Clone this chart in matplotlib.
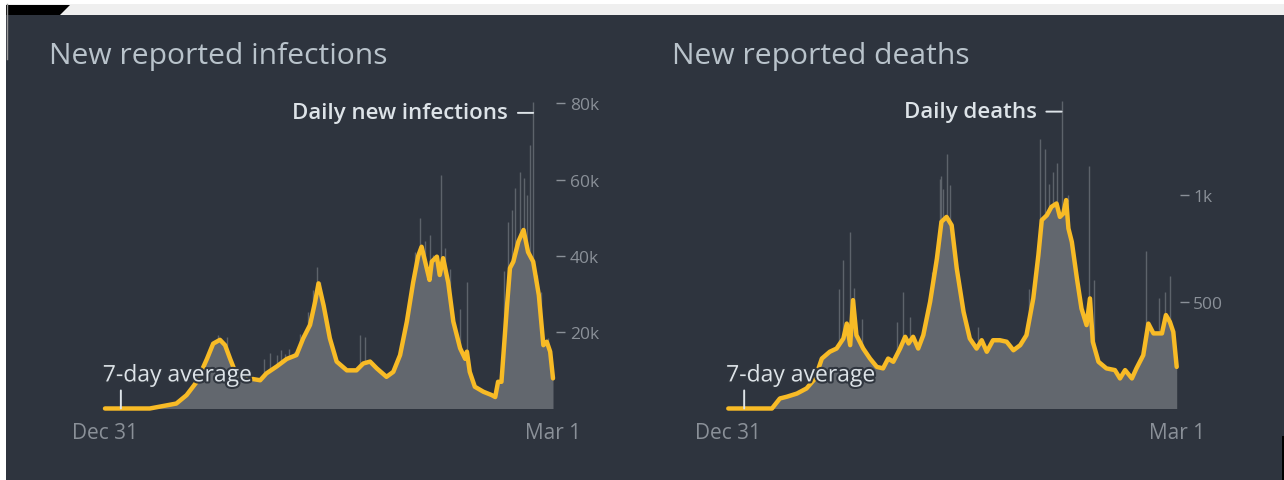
import matplotlib
matplotlib.use("Agg")
from matplotlib import pyplot as plt
from matplotlib.patches import Rectangle, Polygon
import matplotlib.patheffects as pe
import numpy as np

plt.rcParams['font.family'] = ['Open Sans', 'DejaVu Sans']

# days counted from Dec 31 (first day of the x axis) to Mar 1 (last day)
last_day = 791
x_labels = ['Dec 31', 'Mar 1']

# new reported infections, 7-day average
inf_days = [0, 79, 126, 144, 162, 180, 191, 203, 212, 221,
            230, 244, 262, 274, 285, 303, 321, 338, 350, 362,
            371, 377, 386, 397, 409, 427, 444, 456, 468, 480,
            497, 509, 521, 533, 544, 553, 559, 568, 573, 577,
            586, 591, 597, 606, 615, 627, 636, 639, 644, 653,
            668, 683, 689, 694, 700, 709, 715, 721, 730, 739,
            747, 756, 766, 774, 780, 786, 791]
inf_avg = [0, 0, 1300, 3500, 7000, 13000, 17000, 18000, 16600, 13000,
           9600, 8300, 7700, 7400, 9200, 11000, 13000, 14000, 18400, 21900,
           28000, 32800, 27000, 18400, 12300, 10000, 10000, 11800, 12300, 10500,
           8300, 9600, 14000, 22800, 33000, 40000, 42400, 36800, 33700, 38500,
           39800, 35000, 39400, 33000, 22800, 15800, 13000, 14900, 9600, 5700,
           4400, 3500, 3000, 7000, 7000, 25400, 36800, 38500, 43800, 46800,
           41000, 38500, 29700, 16600, 17500, 14900, 7900]
# single days reported well above the average
inf_spike_days = [200, 215, 280, 292, 303, 310, 318, 325, 333, 345, 359, 367, 374,
                  380, 450, 459, 547, 556, 565, 574, 580, 594, 600, 610, 627, 639,
                  705, 712, 718, 724, 733, 739, 745, 750, 756, 762, 770, 783]
inf_spike_vals = [19200, 18800, 13100, 14500, 14000, 15300, 14400, 15600, 14900,
                  19500, 25400, 31000, 37200, 33200, 19200, 18800, 41000, 49900,
                  44000, 45500, 40200, 61200, 42000, 36500, 26200, 33200,
                  36000, 49000, 52000, 57700, 62100, 60400, 56000, 69100, 80300,
                  35000, 30500, 18400]
inf_ticks = [20000, 40000, 60000, 80000]
inf_tick_labels = ['20k', '40k', '60k', '80k']

# new reported deaths, 7-day average
death_days = [0, 77, 91, 103, 121, 138, 153, 165, 179, 191,
              203, 209, 215, 220, 226, 238, 250, 262, 273, 282,
              291, 303, 312, 318, 326, 335, 344, 356, 368, 376,
              385, 394, 403, 415, 426, 438, 447, 456, 467, 479,
              491, 503, 515, 526, 538, 547, 553, 562, 570, 579,
              585, 591, 596, 600, 606, 615, 623, 632, 638, 643,
              653, 667, 682, 691, 700, 712, 720, 732, 741, 750,
              765, 772, 779, 785, 791]
death_avg = [0, 0, 47, 55, 70, 94, 140, 234, 266, 281,
             328, 398, 297, 508, 344, 281, 234, 195, 188, 234,
             219, 281, 336, 305, 336, 281, 344, 500, 703, 875,
             898, 859, 656, 453, 328, 281, 320, 266, 320, 320,
             313, 273, 297, 344, 516, 719, 883, 906, 945, 961,
             898, 914, 977, 844, 781, 609, 469, 391, 516, 313,
             219, 188, 180, 141, 180, 141, 188, 250, 398, 352,
             352, 438, 406, 359, 195]
death_spike_days = [196, 203, 215, 221, 235, 297, 309, 320, 360, 373, 376, 379,
                    385, 391, 403, 440, 530, 550, 559, 566, 573, 580, 588, 600,
                    637, 645, 736, 760, 770, 779]
death_spike_vals = [560, 695, 828, 563, 420, 406, 547, 430, 640, 1078, 1091, 1031,
                    1195, 1047, 469, 380, 560, 1263, 1216, 1050, 1107, 1150, 1442,
                    1000, 1138, 600, 740, 520, 547, 622]
death_ticks = [500, 1000]
death_tick_labels = ['500', '1k']

BG = '#2e343e'
AREA = '#62676e'
SPIKE = '#5d636b'
LINE = '#f8bb26'
TEXT = '#dde3e8'
TICK = '#8a9098'

W, H = 1284, 481
fig = plt.figure(figsize=(W / 100, H / 100), dpi=100)
fig.patch.set_facecolor('white')

# page background, drawn in pixel units
bg = fig.add_axes([0, 0, 1, 1])
bg.set_xlim(0, W)
bg.set_ylim(H, 0)
bg.axis('off')
bg.add_patch(Rectangle((6, 5), W - 6, 11, color='#efefef', lw=0))
bg.add_patch(Polygon([(6, 6), (70, 6), (60, 16), (6, 16)], color='black', lw=0))
bg.add_patch(Rectangle((6, 16), W - 6, H - 16, color=BG, lw=0))
bg.add_patch(Rectangle((1282, 437), 2, H - 437, color='black', lw=0))
bg.plot([6.5, 6.5], [5, 60], color='#9a9a9a', lw=1)

bg.text(49, 64, 'New reported infections', fontsize=21.6, color='#b9c3cb',
        va='baseline', ha='left')
bg.text(672, 64, 'New reported deaths', fontsize=21.6, color='#b9c3cb',
        va='baseline', ha='left')


def px_axes(left, right, top, bottom):
    return fig.add_axes([left / W, 1 - bottom / H, (right - left) / W, (bottom - top) / H])


def panel(ax, days, avg, sp_days, sp_vals, top, ticks, tick_labels, label, label_day):
    ax.set_facecolor('none')
    ax.fill_between(days, 0, avg, color=AREA, lw=0, zorder=1)
    ax.vlines(sp_days, 0, sp_vals, color=SPIKE, lw=1.0, zorder=0.9)
    ax.plot(days, avg, color=LINE, lw=3.2, solid_joinstyle='round',
            solid_capstyle='round', zorder=3, clip_on=False)
    ax.set_xlim(0, last_day)
    ax.set_ylim(0, top)
    for s in ax.spines.values():
        s.set_visible(False)
    ax.spines['right'].set_position(('outward', 2.5))
    ax.yaxis.tick_right()
    ax.set_yticks(ticks)
    ax.set_yticklabels(tick_labels)
    ax.tick_params(axis='y', length=6.5, width=1, color=TICK, labelcolor=TICK,
                   labelsize=12.5, pad=3)
    ax.set_xticks([0, last_day])
    ax.set_xticklabels(x_labels)
    ax.tick_params(axis='x', length=0, labelcolor=TICK, labelsize=15, pad=10)

    # label for the daily bars, joined to the tallest one
    i = int(np.argmax(sp_vals))
    ax.annotate(label, xy=(sp_days[i], sp_vals[i] * 0.965), xytext=(-18, 0),
                textcoords='offset points', ha='right', va='center',
                fontsize=16, fontweight='semibold', color=TEXT,
                arrowprops=dict(arrowstyle='-', color=TEXT, lw=1.4,
                                shrinkA=5, shrinkB=0))

    # label for the 7-day average line
    ax.annotate('', xy=(label_day, 0), xytext=(0, 13), textcoords='offset points',
                arrowprops=dict(arrowstyle='-', color=TEXT, lw=1.4, shrinkA=0, shrinkB=0),
                annotation_clip=False)
    ax.annotate('7-day average', xy=(label_day, 0), xytext=(-13, 19.5),
                textcoords='offset points', ha='left', va='baseline', fontsize=16.5,
                color=TEXT, annotation_clip=False, zorder=5,
                path_effects=[pe.withStroke(linewidth=3, foreground='#30363f')])


ax1 = px_axes(105, 553, 85, 409.5)
panel(ax1, inf_days, inf_avg, inf_spike_days, inf_spike_vals, 85060,
      inf_ticks, inf_tick_labels, 'Daily new infections', 28)

ax2 = px_axes(728.3, 1176.7, 85, 409.5)
panel(ax2, death_days, death_avg, death_spike_days, death_spike_vals, 1521,
      death_ticks, death_tick_labels, 'Daily deaths', 28)

fig.savefig('out.png', dpi=100, facecolor=fig.get_facecolor())
